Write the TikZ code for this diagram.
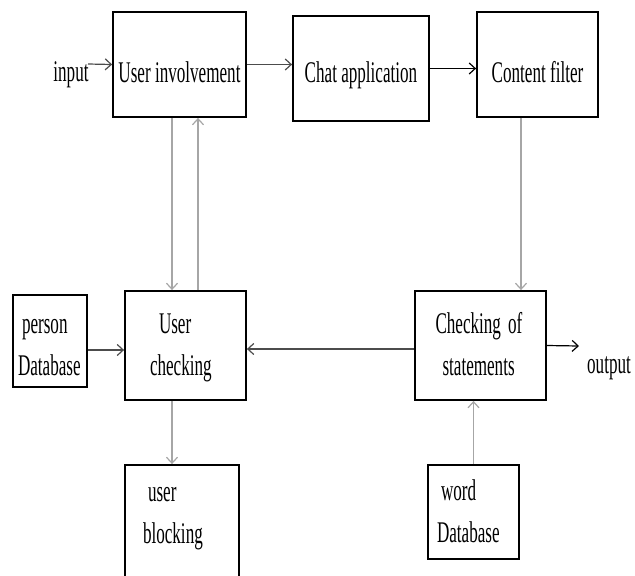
\documentclass[tikz,border=0pt]{standalone}
\usepackage{fontspec}
\newfontfamily\diafont{Liberation Serif}[FakeStretch=0.57]
\usetikzlibrary{arrows.meta,positioning,calc}
\tikzset{blk/.style={draw=black, line width=1.8pt, inner sep=0pt, font=\diafont\fontsize{30}{42}\selectfont},
  lift/.style 2 args={text height=#1pt, text depth=#2pt},
  txt/.style={inner sep=0pt, font=\diafont\fontsize{30}{42}\selectfont},
  flow/.style={-{Straight Barb[length=6pt,width=11pt]}, line width=1.2pt, draw=black!70},
  feed/.style={flow, draw=black!35}}

\begin{document}
\begin{tikzpicture}[x=1pt,y=-1pt]
\useasboundingbox (0,0) rectangle (635,576);
\clip (0,0) rectangle (635,576);

% top row
\node[blk,lift={35}{0},minimum width=133,minimum height=105] (ui) at (179.5,64.5) {User involvement};
\node[blk,lift={27}{0},minimum width=136,minimum height=105] (chat) at (361,68.5) {Chat application};
\node[blk,lift={35}{0},minimum width=121,minimum height=105] (cf) at (537.5,64.5) {Content filter};

% middle row
\node[blk,align=left,text width=64pt,lift={26}{42},minimum width=74,minimum height=92] (pdb) at (50,341) {\hspace*{4pt}person\\Database};
\node[blk,align=left,text width=71pt,lift={26}{51},minimum width=121,minimum height=109] (uc) at (185.5,345.5) {\hspace*{9pt}User\\checking};
\node[blk,align=left,text width=90pt,lift={26}{51},minimum width=131,minimum height=109] (cos) at (480.5,345.5) {Checking\hspace{7pt}of\\\hspace*{7pt}statements};

% bottom row
\node[blk,align=left,text width=78pt,lift={26}{69},minimum width=114,minimum height=115] (ub) at (182,522.5) {\hspace*{5pt}user\\blocking};
\node[blk,align=left,text width=73pt,lift={26}{50},minimum width=91,minimum height=94] (wdb) at (473.5,512) {\hspace*{4pt}word\\Database};

% input / output
\coordinate (in) at (88,64);
\node[txt] (intxt) at (71,75) {input};
\coordinate (out) at (579,346);
\node[txt] (outtxt) at (609,368) {output};

\draw[flow] (in) -- (ui.west);
\draw[flow] (ui.east) -- (ui.east -| chat.west);
\draw[flow,draw=black] (chat.east) -- (chat.east -| cf.west);
\draw[feed] ([xshift=-16.5pt]cf.south) -- ([xshift=-16.5pt]cf.south |- cos.north);
\draw[feed] ([xshift=-7.5pt]ui.south) -- ([xshift=-7.5pt]ui.south |- uc.north);
\draw[feed] ([xshift=12.5pt]uc.north) -- ([xshift=12.5pt]uc.north |- ui.south);
\draw[feed] ([xshift=-13.5pt]uc.south) -- ([xshift=-13.5pt]uc.south |- ub.north);
\draw[flow] ([yshift=-9pt]pdb.east) -- ([yshift=-9pt]pdb.east -| uc.west);
\draw[flow] ([yshift=-3.5pt]cos.west) -- ([yshift=-3.5pt]cos.west -| uc.east);
\draw[flow,draw=black] (cos.east) -- (out);
\draw[feed] (wdb.north) -- (wdb.north |- cos.south);
\end{tikzpicture}
\end{document}
